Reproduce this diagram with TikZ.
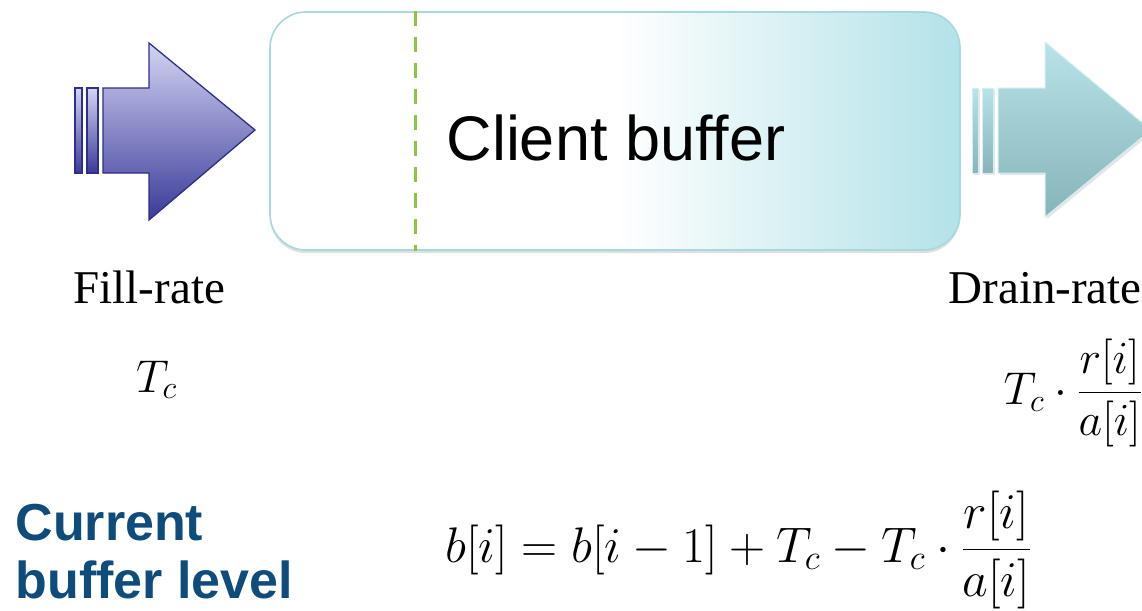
\RequirePackage{fix-cm}
\documentclass[tikz,border=0pt]{standalone}
\usepackage{amsmath}
\usepackage{fontspec}
\setmainfont{Liberation Serif}
\setsansfont{Liberation Sans}
\usetikzlibrary{positioning, shadows}

\definecolor{fillline}{HTML}{2E2E8C}
\definecolor{filltop}{HTML}{D4D4F2}
\definecolor{fillbot}{HTML}{3A3A9A}
\definecolor{draintop}{HTML}{B8E3E9}
\definecolor{drainbot}{HTML}{86B4B8}
\definecolor{bufcyan}{HTML}{B3E2E8}
\definecolor{bufline}{HTML}{A6D8DD}
\definecolor{levelgreen}{HTML}{8CC63F}
\definecolor{titleblue}{HTML}{0D4C7B}

\tikzset{
  fillarrow/.style={draw=fillline, line width=1.3pt, top color=filltop, bottom color=fillbot},
  drainarrow/.style={draw=draintop!60!white, line width=1pt, top color=draintop, bottom color=drainbot,
    drop shadow={opacity=0.2, shadow xshift=2pt, shadow yshift=-2pt}},
  bufbox/.style={draw=bufline, line width=1.6pt, rounded corners=36pt, left color=white,
    right color=bufcyan, middle color=white, minimum width=690pt, minimum height=238pt,
    drop shadow={opacity=0.25, shadow xshift=0pt, shadow yshift=-3pt}},
  levelline/.style={levelgreen, line width=3pt, dash pattern=on 15pt off 11pt},
  ratetext/.style={anchor=base west, font=\fontsize{47}{52}\selectfont},
  mathtext/.style={anchor=base west, font=\fontsize{46}{52}\selectfont}
}

\begin{document}
\begin{tikzpicture}[x=1pt, y=-1pt]
  \clip (0,0) rectangle (1142,610);
  \fill[white] (0,0) rectangle (1142,610);

  % fill arrow
  \path[fillarrow] (75,88) rectangle (82,173);
  \path[fillarrow] (87,88) rectangle (98,173);
  \path[fillarrow] (103,88) -- (149,88) -- (149,43) -- (255,130) -- (149,220) -- (149,173) -- (103,173) -- cycle;

  % buffer
  \node[bufbox] (buffer) at (615,131) {};
  \coordinate (mark) at (415,131);
  \draw[levelline] (mark |- buffer.north) -- (mark |- buffer.south);
  \node[anchor=base west, font=\sffamily\fontsize{63}{70}\selectfont] (title) at (443,160) {Client buffer};

  % drain arrow
  \path[drainarrow] (972,88) rectangle (978,173);
  \path[drainarrow] (982,88) rectangle (993,173);
  \path[drainarrow] (998,88) -- (1045,88) -- (1045,42) -- (1151,130) -- (1045,217) -- (1045,173) -- (998,173) -- cycle;

  \node[ratetext] (fillrate) at (70,303) {Fill-rate};
  \node[ratetext] (drainrate) at (945,303) {Drain-rate};
  \node[mathtext, inner sep=0pt] (fill) at (136,392) {$T_c$};
  \node[mathtext, anchor=east, inner sep=0pt] (drain) at (1142,393)
    {$T_c\cdot\dfrac{r[i]}{a[i]}$};

  \node[anchor=base west, align=left, text=titleblue, font=\sffamily\bfseries\fontsize{52}{58}\selectfont]
    (level) at (12,598) {Current\\buffer level};
  \node[mathtext, font=\fontsize{50}{56}\selectfont, anchor=west, inner sep=0pt] (balance) at (445,550)
    {$b[i]=b[i-1]+T_c-T_c\cdot\dfrac{r[i]}{a[i]}$};
\end{tikzpicture}
\end{document}
